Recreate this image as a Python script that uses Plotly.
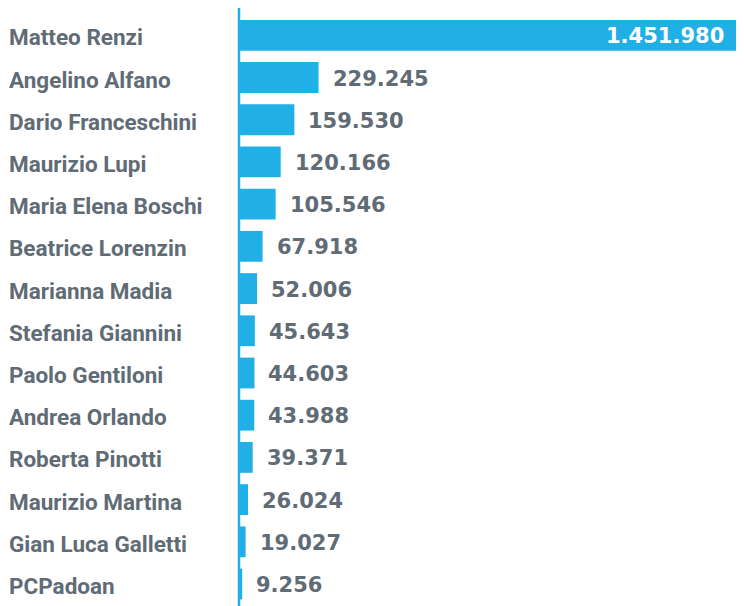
import plotly.graph_objects as go

names = ["Matteo Renzi", "Angelino Alfano", "Dario Franceschini", "Maurizio Lupi",
         "Maria Elena Boschi", "Beatrice Lorenzin", "Marianna Madia", "Stefania Giannini",
         "Paolo Gentiloni", "Andrea Orlando", "Roberta Pinotti", "Maurizio Martina",
         "Gian Luca Galletti", "PCPadoan"]
values = [1451980, 229245, 159530, 120166, 105546, 67918, 52006, 45643,
          44603, 43988, 39371, 26024, 19027, 9256]

BLUE = "#20b0e6"
GREY = "#5f6b75"
NAME_FONT = "Roboto"
VAL_FONT = "DejaVu Sans"

def fmt(v):
    return f"{v:,}".replace(",", ".")

fig = go.Figure(go.Bar(
    x=values, y=list(range(len(names))), orientation="h",
    marker=dict(color=BLUE, line=dict(width=0)), width=0.73,
    hoverinfo="skip",
))

W, H = 744, 606
L, R, T, B = 231, 9, 0, 0
pw = W - L - R

ann = []
for i, (n, v) in enumerate(zip(names, values)):
    ann.append(dict(x=(-1.3 - L) / pw, y=i, xref="paper", yref="y", text=n,
                    showarrow=False, xanchor="left", yanchor="middle", yshift=-2,
                    font=dict(family=NAME_FONT, size=22.5, color=GREY, weight=700)))
    if i == 0:
        ann.append(dict(x=v, y=i, xref="x", yref="y", text=fmt(v), xshift=-17,
                        showarrow=False, xanchor="right", yanchor="middle", yshift=-1,
                        font=dict(family=VAL_FONT, size=21, color="white", weight=700)))
    else:
        ann.append(dict(x=v, y=i, xref="x", yref="y", text=fmt(v), xshift=12,
                        showarrow=False, xanchor="left", yanchor="middle", yshift=-1,
                        font=dict(family=VAL_FONT, size=21, color=GREY, weight=700)))

fig.update_layout(
    width=W, height=H,
    margin=dict(l=L, r=R, t=T, b=B, pad=0),
    paper_bgcolor="white", plot_bgcolor="white",
    showlegend=False,
    xaxis=dict(range=[0, 1451980], visible=False, fixedrange=True),
    yaxis=dict(range=[13.71, -0.647], showticklabels=False, showgrid=False,
               zeroline=False, showline=False, ticks="", fixedrange=True),
    annotations=ann,
    shapes=[dict(type="line", xref="paper", yref="paper", x0=0, x1=0, y0=0, y1=1,
                 line=dict(color=BLUE, width=2.5), layer="above")],
)

fig.write_html("out.html")
